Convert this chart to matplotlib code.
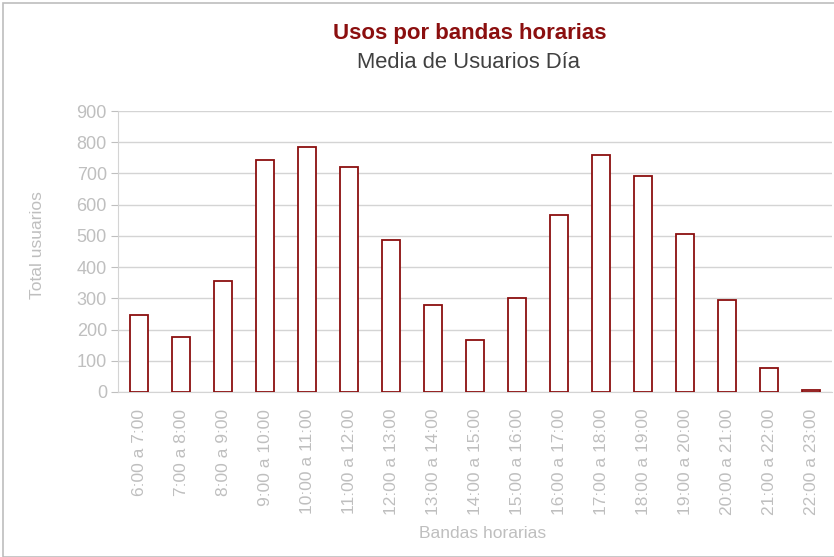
import matplotlib
matplotlib.use("Agg")
import matplotlib.pyplot as plt
from matplotlib.patches import Rectangle

# data
bandas = ["6:00 a 7:00", "7:00 a 8:00", "8:00 a 9:00", "9:00 a 10:00",
          "10:00 a 11:00", "11:00 a 12:00", "12:00 a 13:00", "13:00 a 14:00",
          "14:00 a 15:00", "15:00 a 16:00", "16:00 a 17:00", "17:00 a 18:00",
          "18:00 a 19:00", "19:00 a 20:00", "20:00 a 21:00", "21:00 a 22:00",
          "22:00 a 23:00"]
usuarios = [246, 175, 355, 742, 785, 720, 486, 279, 165, 301,
            568, 759, 693, 507, 296, 78, 7]
yticks = [0, 100, 200, 300, 400, 500, 600, 700, 800, 900]

plt.rcParams['font.family'] = ['Liberation Sans', 'DejaVu Sans']

grey = "#BFBFBF"
red = "#8B0F0F"

fig = plt.figure(figsize=(8.34, 5.57), dpi=100)
ax = fig.add_axes([118/834, 1 - 392/557, 714/834, 281/557])

x = list(range(len(bandas)))
ax.bar(x, usuarios, width=0.45, facecolor="white", edgecolor=red, linewidth=1.3, zorder=3)

ax.set_xlim(-0.5, len(bandas) - 0.5)
ax.set_ylim(0, 900)
ax.set_yticks(yticks)
ax.set_xticks(x)
ax.set_xticklabels(bandas, rotation=90, ha="center", va="top")
ax.tick_params(axis="y", colors=grey, labelcolor=grey, labelsize=13, length=5, width=0.8, pad=3)
ax.tick_params(axis="x", length=0, labelcolor=grey, labelsize=12.5, pad=12)
ax.yaxis.grid(True, color="#D4D4D4", linewidth=1.0, zorder=0)
ax.set_axisbelow(True)
for s in ["top", "right"]:
    ax.spines[s].set_visible(False)
ax.spines["left"].set_color("#D4D4D4")
ax.spines["bottom"].set_color("#D4D4D4")

fig.text(37/834, 1 - 245/557, "Total usuarios", rotation=90, color=grey,
         fontsize=12.5, ha="center", va="center")
fig.text(483/834, 1 - 533/557, "Bandas horarias", color=grey, fontsize=12.5,
         ha="center", va="center")

fig.text(470/834, 1 - 33/557, "Usos por bandas horarias", color=red,
         fontsize=16, fontweight="bold", ha="center", va="center")
fig.text(469/834, 1 - 62/557, "Media de Usuarios Día", color="#404040",
         fontsize=15.8, ha="center", va="center")

fig.patches.append(Rectangle((3/834, 0), 1.2, 1 - 3/557, transform=fig.transFigure,
                             fill=False, edgecolor="#BDBDBD", linewidth=1.2))

fig.savefig("out.png", dpi=100)
